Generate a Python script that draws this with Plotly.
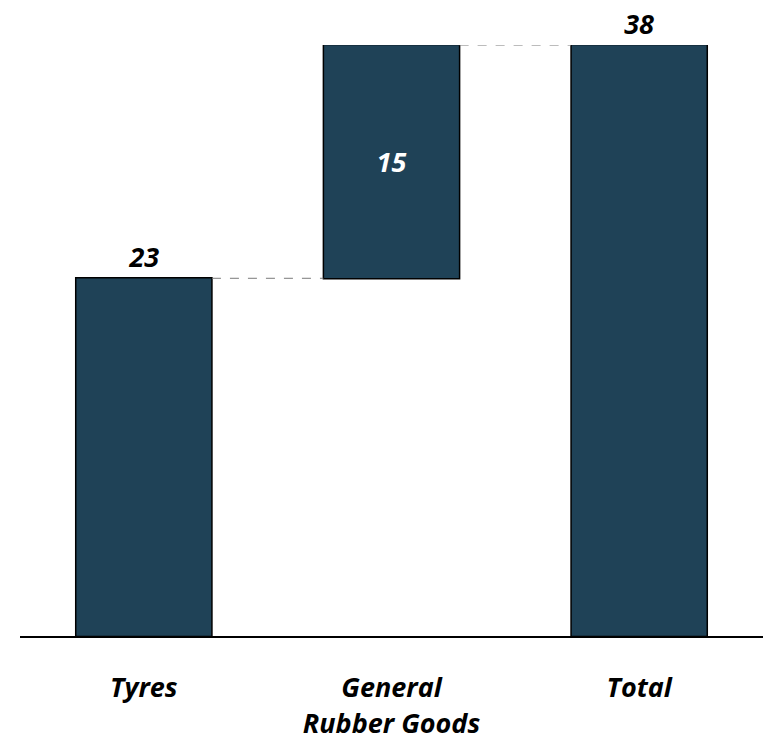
import plotly.graph_objects as go

# Waterfall: tyres + general rubber goods = total
categories = ["Tyres", "General<br>Rubber Goods", "Total"]
values = [23, 15, 38]
measures = ["relative", "relative", "total"]
labels = ["23", "15", "38"]

bar_color = "#1F4257"
value_font = dict(family="Open Sans, sans-serif", size=27, weight="bold", style="italic")
tick_font = dict(family="Open Sans, sans-serif", size=27, weight="bold", style="italic", color="black")

fig = go.Figure(
    go.Waterfall(
        x=[0, 1, 2],
        y=values,
        measure=measures,
        text=labels,
        textposition=["outside", "inside", "outside"],
        insidetextanchor="middle",
        constraintext="none",
        textfont=dict(value_font, color="black"),
        insidetextfont=dict(value_font, color="white"),
        outsidetextfont=dict(value_font, color="black"),
        width=0.55,
        increasing=dict(marker=dict(color=bar_color, line=dict(color="black", width=1.5))),
        decreasing=dict(marker=dict(color=bar_color, line=dict(color="black", width=1.5))),
        totals=dict(marker=dict(color=bar_color, line=dict(color="black", width=1.5))),
        connector=dict(mode="between", line=dict(color="#7a7a7a", width=1, dash="dash")),
        cliponaxis=False,
        showlegend=False,
    )
)

fig.update_layout(
    width=763,
    height=740,
    margin=dict(l=20, r=0, t=45, b=104),
    paper_bgcolor="white",
    plot_bgcolor="white",
    xaxis=dict(
        range=[-0.5, 2.5],
        tickmode="array",
        tickvals=[0, 1, 2],
        ticktext=categories,
        tickfont=tick_font,
        ticks="",
        ticklabelstandoff=27,
        automargin=False,
        showline=True,
        linecolor="black",
        linewidth=2,
        showgrid=False,
        zeroline=False,
    ),
    yaxis=dict(
        range=[0, 38],
        visible=False,
        automargin=False,
        showgrid=False,
        zeroline=False,
    ),
)

fig.write_html("out.html")
